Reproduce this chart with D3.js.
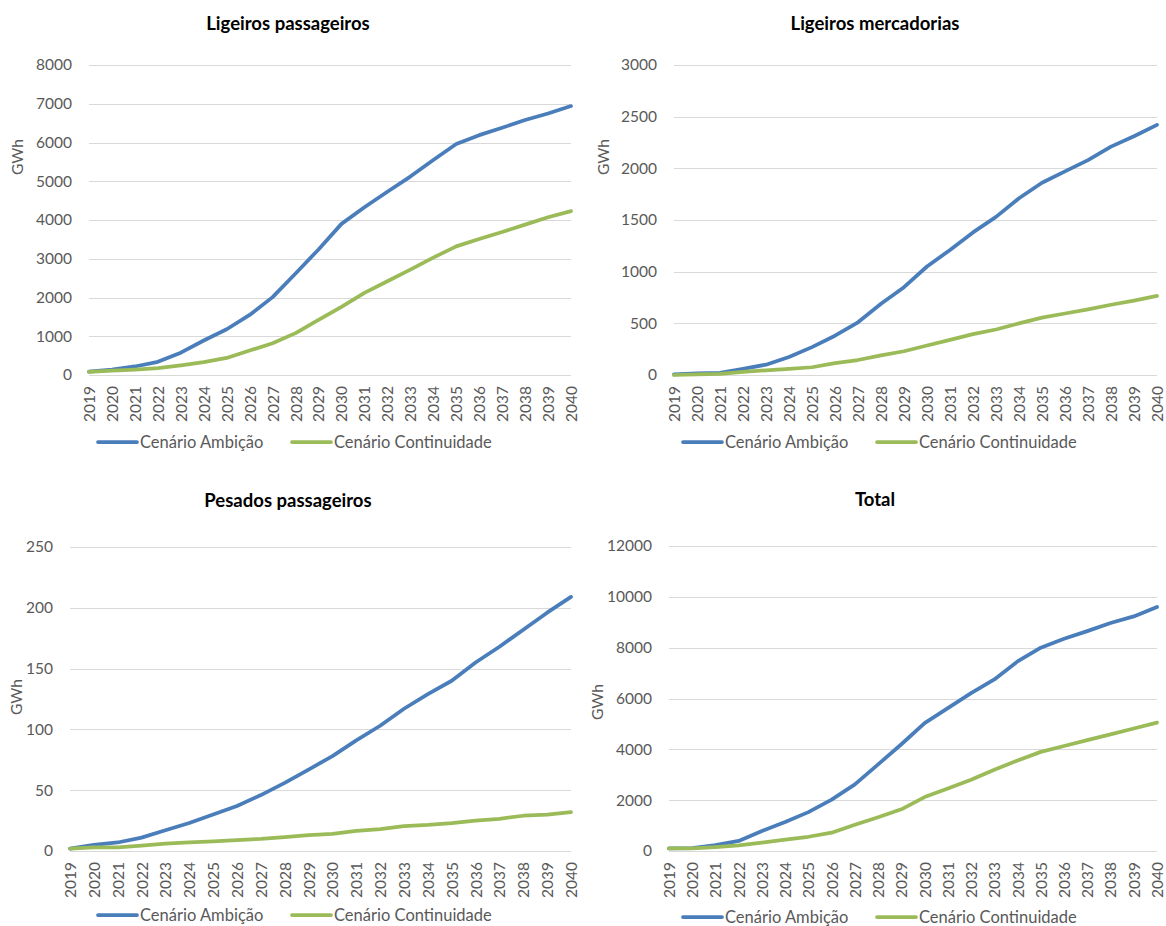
<!DOCTYPE html>
<html>
<head>
<meta charset="utf-8">
<script src="https://cdn.jsdelivr.net/npm/d3@7"></script>
<style>
  body { margin: 0; background: #fff; }
  svg { display: block; font-family: Lato, "Open Sans", sans-serif; }
</style>
</head>
<body>
<svg id="chart" width="1166" height="926"></svg>
<script>
const years = ["2019","2020","2021","2022","2023","2024","2025","2026","2027","2028","2029","2030","2031","2032","2033","2034","2035","2036","2037","2038","2039","2040"];
const seriesNames = ["Cenário Ambição", "Cenário Continuidade"];

const titles = ["Ligeiros passageiros", "Ligeiros mercadorias", "Pesados passageiros", "Total"];

const ligPassAmbicao = [85,140,220,340,575,890,1180,1550,2010,2620,3240,3900,4330,4730,5120,5550,5960,6190,6380,6580,6750,6940];
const ligPassContinuidade = [80,110,140,180,250,330,440,630,820,1080,1420,1760,2120,2420,2720,3030,3320,3510,3690,3880,4070,4230];

const ligMercAmbicao = [5,15,20,60,100,175,270,380,510,690,850,1050,1210,1380,1530,1710,1860,1970,2080,2210,2310,2420];
const ligMercContinuidade = [0,5,10,30,45,60,75,115,145,190,230,285,340,395,440,500,555,595,635,680,720,765];

const pesPassAmbicao = [2,5,7,11,17,23,30,37,46,56,67,78,91,103,117,129,140,155,168,182,196,209];
const pesPassContinuidade = [2,3,3,4.5,6,7,8,9,10,11.5,13,14,16.5,18,20.5,21.5,23,25,26.5,29,30,32];

const totalAmbicao = [100,110,230,395,785,1140,1530,2020,2620,3410,4200,5030,5620,6210,6750,7460,8000,8350,8650,8970,9230,9600];
const totalContinuidade = [100,100,150,220,330,450,560,720,1030,1330,1640,2120,2460,2800,3200,3560,3900,4130,4360,4590,4820,5050];

const yTicks1 = [0,1000,2000,3000,4000,5000,6000,7000,8000];
const yTicks2 = [0,500,1000,1500,2000,2500,3000];
const yTicks3 = [0,50,100,150,200,250];
const yTicks4 = [0,2000,4000,6000,8000,10000,12000];

const colors = ["#4A7EBB", "#9BBB59"];

const panels = [
  { title: titles[0], data: [ligPassAmbicao, ligPassContinuidade], ticks: yTicks1,
    x0: 89, x1: 571, yTop: 65, yBot: 375, titleX: 288, titleY: 30, gwhX: 23, gwhY: 157, legY: 442, legX: 98 },
  { title: titles[1], data: [ligMercAmbicao, ligMercContinuidade], ticks: yTicks2,
    x0: 674, x1: 1157, yTop: 65, yBot: 375, titleX: 875, titleY: 30, gwhX: 609, gwhY: 157, legY: 442, legX: 683 },
  { title: titles[2], data: [pesPassAmbicao, pesPassContinuidade], ticks: yTicks3,
    x0: 70, x1: 571, yTop: 547, yBot: 851, titleX: 288, titleY: 507, gwhX: 22, gwhY: 697, legY: 915, legX: 98 },
  { title: titles[3], data: [totalAmbicao, totalContinuidade], ticks: yTicks4,
    x0: 669, x1: 1157, yTop: 546, yBot: 851, titleX: 875, titleY: 506, gwhX: 603, gwhY: 702, legY: 917, legX: 683 }
];

const svg = d3.select("#chart");

panels.forEach(p => {
  const g = svg.append("g");
  const x = d3.scalePoint().domain(years).range([p.x0, p.x1]);
  const y = d3.scaleLinear().domain([0, d3.max(p.ticks)]).range([p.yBot, p.yTop]);

  // gridlines
  g.append("g").selectAll("line").data(p.ticks).join("line")
    .attr("x1", p.x0).attr("x2", p.x1)
    .attr("y1", d => Math.round(y(d)) + 0.5).attr("y2", d => Math.round(y(d)) + 0.5)
    .attr("stroke", "#D9D9D9").attr("stroke-width", 1);

  // y axis labels
  const yAxis = d3.axisLeft(y).tickValues(p.ticks).tickSize(0).tickPadding(17).tickFormat(d3.format("d"));
  const ya = g.append("g").attr("transform", `translate(${p.x0},0)`).call(yAxis);
  ya.select(".domain").remove();
  ya.selectAll("text").attr("fill", "#595959").style("font-size", "15.5px").style("font-family", "Lato, sans-serif");

  // x axis labels
  const xAxis = d3.axisBottom(x).tickSize(0).tickPadding(0);
  const xa = g.append("g").attr("transform", `translate(0,${p.yBot})`).call(xAxis);
  xa.select(".domain").remove();
  xa.selectAll("text")
    .attr("fill", "#595959").style("font-size", "15.5px").style("font-family", "Lato, sans-serif")
    .attr("text-anchor", "end")
    .attr("transform", "translate(0,11) rotate(-90)")
    .attr("x", 0).attr("y", 0).attr("dy", "0.35em");

  // lines
  const line = d3.line().x((d, i) => x(years[i])).y(d => y(d));
  p.data.forEach((s, k) => {
    g.append("path").datum(s).attr("d", line)
      .attr("fill", "none").attr("stroke", colors[k]).attr("stroke-width", 3.75)
      .attr("stroke-linejoin", "round").attr("stroke-linecap", "round");
  });

  // title
  g.append("text").attr("x", p.titleX).attr("y", p.titleY).attr("text-anchor", "middle")
    .style("font-size", "18.5px").style("font-weight", "bold").attr("fill", "#000").text(p.title);

  // y title
  g.append("text").attr("transform", `translate(${p.gwhX},${p.gwhY}) rotate(-90)`)
    .attr("text-anchor", "middle").attr("fill", "#595959").style("font-size", "15.5px").text("GWh");

  // legend
  const leg = g.append("g");
  const offs = [0, 194];
  seriesNames.forEach((n, k) => {
    const lx = p.legX + offs[k];
    leg.append("line").attr("x1", lx).attr("x2", lx + 39).attr("y1", p.legY).attr("y2", p.legY)
      .attr("stroke", colors[k]).attr("stroke-width", 3.75).attr("stroke-linecap", "round");
    leg.append("text").attr("x", lx + 42).attr("y", p.legY).attr("dy", "0.35em")
      .attr("fill", "#595959").style("font-size", "16.5px").text(n);
  });
});
</script>
</body>
</html>
